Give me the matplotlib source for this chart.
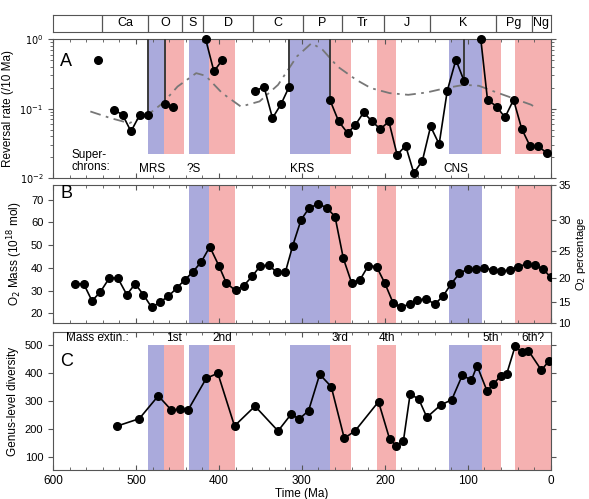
import numpy as np
import matplotlib
matplotlib.use('Agg')
import matplotlib.pyplot as plt
from matplotlib.ticker import MultipleLocator, FixedLocator

plt.rcParams['font.family'] = ['Liberation Sans', 'DejaVu Sans']
plt.rcParams['font.size'] = 8.5

# geologic periods (Ma)
period_names = ['Ca', 'O', 'S', 'D', 'C', 'P', 'Tr', 'J', 'K', 'Pg', 'Ng']
period_bounds = [541, 485, 444, 419, 359, 299, 252, 201, 145, 66, 23, 0]

# shaded intervals (start, end) in Ma
blue_bands = [(486, 466), (436, 412), (314, 266), (123, 83)]
red_bands = [(466, 442), (412, 381), (266, 241), (210, 186), (83, 60), (43, 0)]
blue_bands_b = [(436, 412), (314, 266), (123, 83)]
red_bands_b = [(412, 381), (266, 241), (210, 186), (43, 0)]

# panel A: reversal rate (nan = break in line)
rev_time = [526, 516, 506, 495.5, 485, np.nan, 465.5, 455.6, np.nan,
            416, 406, 396, np.nan,
            356.5, 345.7, 335.4, 325.1, 315.2, np.nan,
            265.9, 255.6, 244.8, 235.4, 225.6, 215.2, 205.4, 195.1, 185.2,
            174.9, 165.0, 154.7, 144.8, 134.5, 124.7, 114.3, 104.5, np.nan,
            84.3, 76.2, 65.0, 55.2, 44.8, 35.0, 24.7, 14.8, 4.5]
rev_rate = [0.096, 0.081, 0.047, 0.081, 0.081, np.nan, 0.116, 0.104, np.nan,
            1.0, 0.343, 0.50, np.nan,
            0.177, 0.208, 0.073, 0.116, 0.208, np.nan,
            0.131, 0.0654, 0.0444, 0.0585, 0.088, 0.0654, 0.0507, 0.0654, 0.0217,
            0.0292, 0.0118, 0.0178, 0.0554, 0.0308, 0.181, 0.504, 0.251, np.nan,
            1.0, 0.134, 0.107, 0.0746, 0.134, 0.0513, 0.0286, 0.0286, 0.0229]
lone_time = [546]
lone_rate = [0.50]
# times where the rate leaves the top of the scale
offscale_time = [485, 465.5, 315.2, 265.9, 104.5]

trend_time = [555, 530.5, 508, 485.7, 467.7, 449.8, 427.4, 416, 396, 373.5, 351,
              328.7, 306, 288.3, 275, 257, 234.5, 216.6, 194, 171.7, 149.3, 127,
              104.5, 86.5, 68.6, 46.2, 23.8, 17]
trend_rate = [0.091, 0.073, 0.0618, 0.0815, 0.12, 0.208, 0.324, 0.297, 0.167, 0.107,
              0.127, 0.220, 0.563, 0.875, 0.703, 0.404, 0.26, 0.197, 0.167, 0.158,
              0.171, 0.197, 0.220, 0.213, 0.177, 0.142, 0.114, 0.102]

chron_names = ['MRS', '?S', 'KRS', 'CNS']
chron_time = [481, 430, 300, 114]

# panel B: O2 mass (1e18 mol)
o2_time = [573, 563, 553, 543, 532, 522, 511, 501, 491, 481, 471, 461, 451, 441,
           431, 421, 411, 400, 391, 380, 370, 360, 350, 340, 330, 320, 311, 301,
           291, 280, 270, 260, 250, 240, 230, 220, 210, 200, 190, 181, 170, 161,
           150, 140, 130, 120, 110, 100, 90, 80, 70, 60, 49, 40, 29, 19, 9, 0]
o2_mass = [33.0, 33.0, 25.5, 29.4, 35.6, 35.6, 28.2, 33.0, 28.2, 22.6, 25.0, 27.5,
           31.1, 34.8, 38.4, 42.8, 49.3, 40.9, 33.3, 30.1, 32.2, 36.3, 40.9, 41.2,
           38.0, 38.0, 49.8, 61.1, 66.5, 68.0, 66.5, 62.5, 44.2, 33.4, 34.7, 40.9,
           40.6, 33.3, 24.6, 22.9, 24.0, 25.8, 26.5, 24.0, 27.5, 33.0, 37.6, 39.5,
           39.5, 39.9, 39.2, 38.7, 39.0, 40.6, 41.6, 41.2, 39.5, 35.8]
other_gas_mass = 142.0   # for percentage axis

# panel C: genus-level diversity
div_time = [522.4, 496.0, 473.1, 457.4, 447.5, 437.2, 415.2, 401.3, 381.2, 356.5,
            328.7, 313.0, 303.1, 291.9, 278.5, 264.6, 248.9, 235.9, 207.6, 194.2,
            186.1, 177.6, 169.5, 159.2, 149.3, 132.7, 119.3, 106.7, 95.5, 88.8,
            76.7, 69.5, 60.5, 52.9, 43.0, 35.0, 26.9, 11.2, 2.2]
div_count = [210, 236, 318, 267, 270, 267, 381, 399, 210, 281, 192, 252, 235, 265,
             395, 351, 166, 192, 297, 163, 139, 156, 324, 307, 241, 285, 304, 391,
             375, 426, 335, 359, 389, 398, 495, 475, 480, 410, 443]

extinct_names = ['1st', '2nd', '3rd', '4th', '5th', '6th?']
extinct_time = [454, 396, 254, 198, 72, 21]

BLUE = '#aaaadc'
RED = '#f5b1b1'
SPINE = '#555555'


def shade(ax, blues, reds, lo, hi):
    for a, b in blues:
        ax.fill_between([a, b], lo, hi, color=BLUE, lw=0, zorder=0)
    for a, b in reds:
        ax.fill_between([a, b], lo, hi, color=RED, lw=0, zorder=0)


def style(ax):
    for s in ax.spines.values():
        s.set_color(SPINE)
    ax.set_xlim(600, 0)
    ax.xaxis.set_major_locator(MultipleLocator(100))
    ax.xaxis.set_minor_locator(MultipleLocator(20))
    ax.tick_params(axis='x', which='both', direction='in', top=True, color=SPINE)
    ax.tick_params(axis='y', which='both', direction='out', color=SPINE,
                   labelsize=8)


L, W = 0.09, 0.845
fig = plt.figure(figsize=(5.89, 4.99), dpi=100)
ax_p = fig.add_axes([L, 0.936, W, 0.034])
axA = fig.add_axes([L, 0.643, W, 0.2786])
axB = fig.add_axes([L, 0.3527, W, 0.2766])
axC = fig.add_axes([L, 0.0581, W, 0.2766])

# period bar
ax_p.set_xlim(600, 0)
ax_p.set_ylim(0, 1)
ax_p.set_xticks([])
ax_p.set_yticks([])
for s in ax_p.spines.values():
    s.set_color(SPINE)
ax_p.vlines(period_bounds[:-1], 0, 1, color=SPINE, lw=0.9)
for i, name in enumerate(period_names):
    ax_p.text((period_bounds[i] + period_bounds[i + 1]) / 2, 0.5, name,
              ha='center', va='center', fontsize=9)

# panel A
style(axA)
axA.set_yscale('log')
axA.set_ylim(1e-2, 1)
shade(axA, blue_bands, red_bands, 0.0224, 1)
axA.plot(trend_time, trend_rate, color='#777777', lw=1.3,
         dashes=(6, 3, 1.5, 3), zorder=2)
rt = np.array(rev_time)
rr = np.array(rev_rate)
base = [rr[np.where(rt == t)[0][0]] for t in offscale_time]
axA.vlines(offscale_time, base, 1, color='#3a3a3a', lw=1.4, zorder=3)
axA.plot(rev_time, rev_rate, '-o', color='black', lw=1.2, ms=5.5, zorder=4,
         clip_on=False)
axA.plot(lone_time, lone_rate, 'o', color='black', ms=5.5, zorder=4)
axA.yaxis.set_major_locator(FixedLocator([1e-2, 1e-1, 1]))
axA.set_yticklabels(['$10^{-2}$', '$10^{-1}$', '$10^{0}$'], fontsize=7)
axA.tick_params(axis='y', which='both', right=True)
axA.set_xticklabels([])
axA.set_ylabel('Reversal rate (/10 Ma)')
axA.text(584, 0.47, 'A', fontsize=13, ha='center', va='center')
axA.text(578, 0.0175, 'Super-\nchrons:', fontsize=8.5, ha='left', va='center',
         linespacing=1.0)
for name, t in zip(chron_names, chron_time):
    axA.text(t, 0.0137, name, fontsize=8.5, ha='center', va='center')

# panel B
style(axB)
ylo = other_gas_mass * 10 / 90
yhi = other_gas_mass * 35 / 65
axB.set_ylim(ylo, yhi)
shade(axB, blue_bands_b, red_bands_b, ylo, yhi)
axB.plot(o2_time, o2_mass, '-o', color='black', lw=1.2, ms=5.5, zorder=4)
axB.yaxis.set_major_locator(MultipleLocator(10))
axB.set_xticklabels([])
axB.set_ylabel('O$_2$ Mass (10$^{18}$ mol)')
axB.text(584, 72.5, 'B', fontsize=13, ha='center', va='center')


def m2p(m):
    return 100 * m / (m + other_gas_mass)


def p2m(p):
    return other_gas_mass * p / (100 - p)


secB = axB.secondary_yaxis('right', functions=(m2p, p2m))
secB.set_yticks([10, 15, 20, 25, 30, 35])
secB.tick_params(direction='out', color=SPINE, labelsize=8, pad=2)
secB.spines['right'].set_color(SPINE)
secB.set_ylabel('O$_2$ percentage', fontsize=8, labelpad=2)

# panel C
style(axC)
axC.set_ylim(52, 547)
shade(axC, blue_bands, red_bands, 52, 500)
axC.plot(div_time, div_count, '-o', color='black', lw=1.2, ms=5.5, zorder=4)
axC.yaxis.set_major_locator(MultipleLocator(100))
axC.tick_params(axis='y', which='both', right=True)
axC.set_ylabel('Genus-level diversity')
axC.set_xlabel('Time (Ma)', labelpad=1)
axC.text(584, 524, 'Mass extin.:', fontsize=8.5, ha='left', va='center')
axC.text(584, 440, 'C', fontsize=13, ha='center', va='center')
for name, t in zip(extinct_names, extinct_time):
    axC.text(t, 524, name, fontsize=8.5, ha='center', va='center')

fig.align_ylabels([axA, axB, axC])
fig.savefig('out.png', dpi=100)
